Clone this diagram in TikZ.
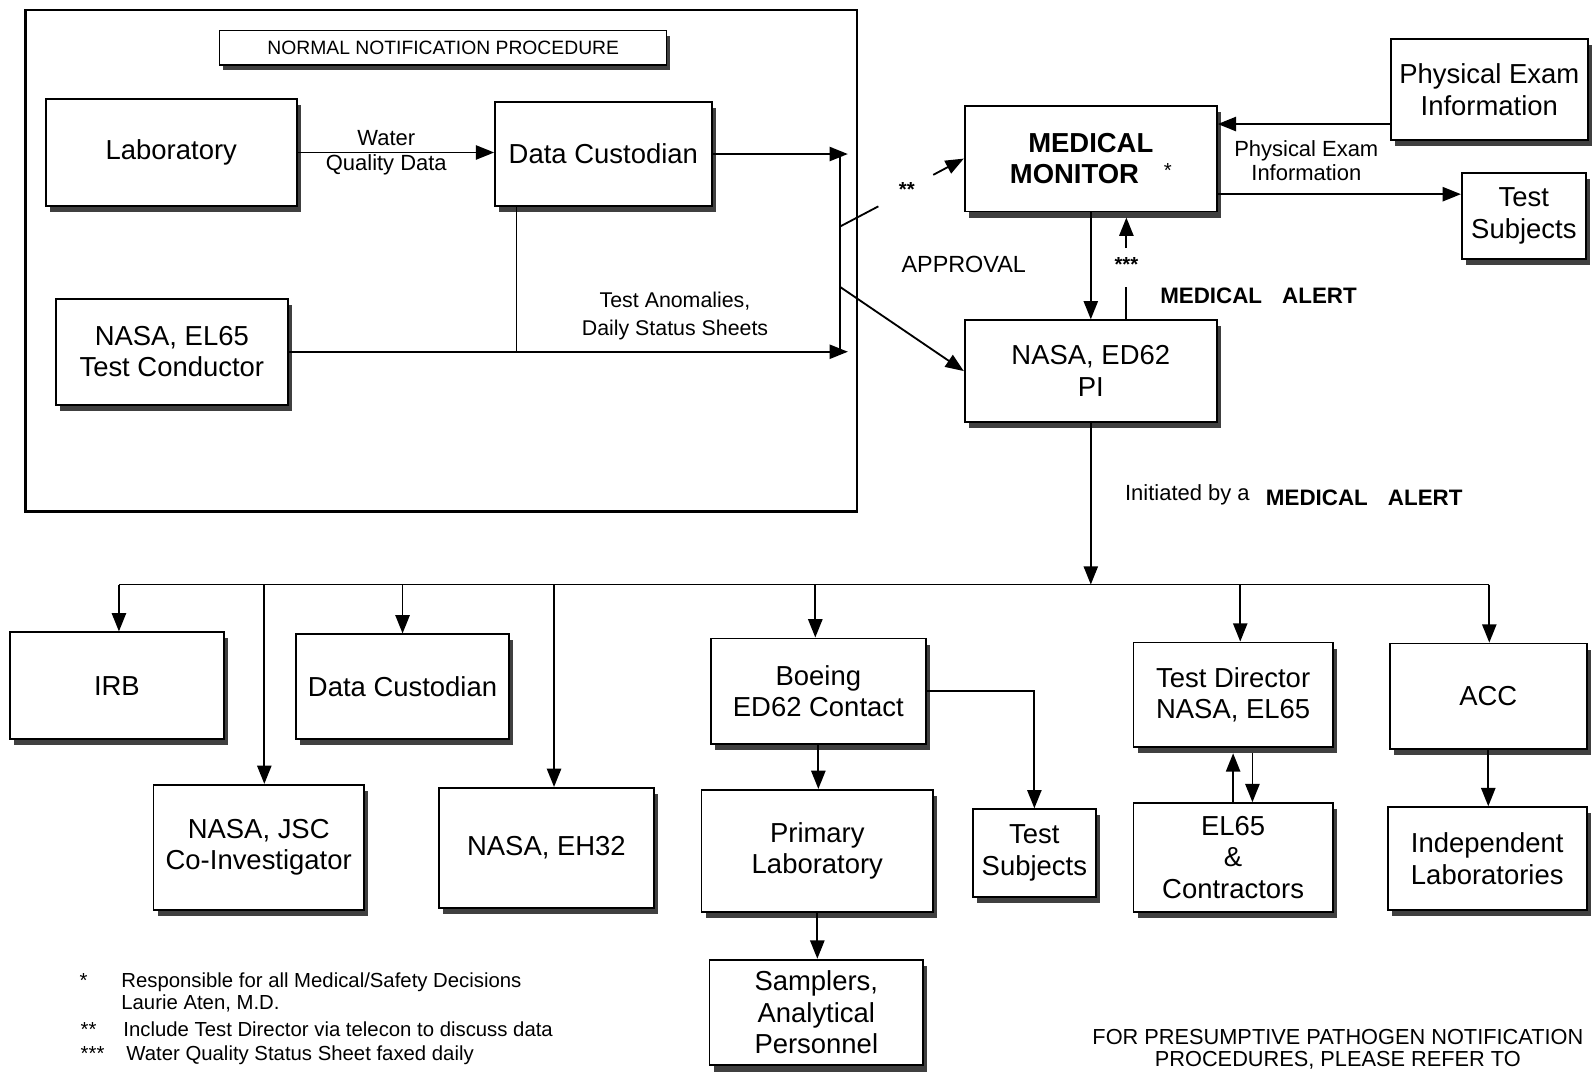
\documentclass[tikz,border=0pt]{standalone}
\usepackage{fontspec}
\setmainfont{Liberation Sans}
\usetikzlibrary{arrows.meta,shadows,calc}
\newcommand{\mybx}[6]{\node[box, minimum width={(#4-#2)*0.5pt}, minimum height={(#5-#3)*0.5pt}] (#1) at ({(#2+#4)/2},{(#3+#5)/2}) {#6};}
\begin{document}
\begin{tikzpicture}[x=0.5pt,y=-0.5pt,
 bx/.style={draw, line width=0.9pt, fill=white, align=center, inner sep=1pt},
 box/.style={bx, font=\fontsize{13.5}{15.5}\selectfont,
   drop shadow={shadow xshift=2pt, shadow yshift=-3pt, fill=black!75, opacity=1}},
 arr/.style={-{Triangle[length=9pt,width=7pt]}, line width=0.9pt},
 ln/.style={line width=0.9pt},
 lbl/.style={font=\fontsize{10.8}{12}\selectfont, align=center, inner sep=0pt},
 alert/.style={font=\bfseries\fontsize{11}{13}\selectfont, inner sep=0pt},
 note/.style={font=\fontsize{10}{12}\selectfont, anchor=base west, inner sep=0pt}]
\clip (0,0) rectangle (1568,1057);
\fill[white] (0,0) rectangle (1568,1057);

% frame of normal procedure
\draw[line width=1.2pt] (25,10) rectangle (843,503);
\node[bx, line width=0.6pt, font=\fontsize{9.5}{11}\selectfont, minimum width=220pt, minimum height=17pt,
  drop shadow={shadow xshift=1.5pt, shadow yshift=-2.5pt, fill=black!75, opacity=1}] (title) at (436,47) {NORMAL NOTIFICATION PROCEDURE};

% coordinates
\coordinate (bt) at (826,0);
\coordinate (tipx) at (834,0);
\coordinate (j) at (508,0);
\coordinate (b1) at (826,223);
\coordinate (b1e) at (864,203);
\coordinate (b1s) at (918,172);
\coordinate (b2) at (826,282);
\coordinate (sx) at (1108,0);
\coordinate (py) at (0,122);
\coordinate (ty) at (0,191);
\coordinate (bus) at (0,575);
\coordinate (d1) at (117,575);
\coordinate (d2) at (260,575);
\coordinate (d3) at (396,575);
\coordinate (d4) at (545,575);
\coordinate (d5) at (802,575);
\coordinate (d6) at (1220,575);
\coordinate (d7) at (1465,575);
\coordinate (ua) at (1213,741);
\coordinate (da) at (1232,741);

% boxes
\mybx{lab}{45}{97}{292}{203}{Laboratory}
\mybx{dc}{487}{100}{700}{203}{Data Custodian}
\mybx{tc}{55}{294}{283}{398}{NASA, EL65\\Test Conductor}
\mybx{mm}{949}{104}{1197}{208}{\bfseries MEDICAL\\\bfseries MONITOR\hspace{0.9em}\raisebox{3pt}{\normalfont\fontsize{10}{12}\selectfont *}}
\mybx{pe}{1368}{38}{1562}{138}{Physical Exam\\Information}
\mybx{ts1}{1438}{170}{1560}{255}{Test\\Subjects}
\mybx{pi}{949}{315}{1197}{415}{NASA, ED62\\PI}
\mybx{irb}{10}{622}{220}{727}{IRB}
\mybx{dctwo}{291}{624}{501}{727}{Data Custodian}
\mybx{jsc}{151}{772}{358}{895}{NASA, JSC\\Co-Investigator}
\mybx{eh}{432}{775}{643}{893}{NASA, EH32}
\mybx{boe}{699}{628}{911}{732}{Boeing\\ED62 Contact}
\mybx{plab}{690}{777}{918}{897}{Primary\\Laboratory}
\mybx{tstwo}{957}{796}{1078}{882}{Test\\Subjects}
\mybx{samp}{698}{944}{908}{1048}{Samplers,\\Analytical\\Personnel}
\mybx{td}{1115}{632}{1311}{735}{Test Director\\NASA, EL65}
\mybx{el}{1115}{790}{1311}{897}{EL65\\\&\\Contractors}
\mybx{acc}{1367}{633}{1561}{737}{ACC}
\mybx{indl}{1365}{794}{1561}{895}{Independent\\Laboratories}

% normal procedure connectors
\draw[arr] (lab.east) -- (lab.east -| dc.west);
\draw[arr] (dc.east) -- (dc.east -| tipx);
\draw[arr] (tc.east) -- (tc.east -| tipx);
\draw[ln] (dc.south -| j) -- (j |- tc.east);
\draw[ln] (dc.east -| bt) -- (tc.east -| bt);
\node[lbl] (wq1) at (380,136) {Water};
\node[lbl] (wq2) at (380,162) {Quality Data};
\node[lbl, font=\fontsize{10.5}{13.5}\selectfont] (ta) at (664,311) {Test Anomalies,\\Daily Status Sheets};

% to medical monitor and PI
\draw[ln] (b1) -- (b1e);
\node[font=\bfseries\fontsize{10}{12}\selectfont, inner sep=0pt] (s2) at (892,186) {**};
\draw[arr] (b1s) -- (mm.west);
\draw[arr] (b2) -- (pi.west);
\node[lbl, font=\fontsize{11.5}{13}\selectfont] (appr) at (948,260) {APPROVAL};
\draw[arr] (mm.south) -- (pi.north);
\draw[ln] (pi.north -| sx) -- (1108,282);
\node[font=\bfseries\fontsize{10}{12}\selectfont, inner sep=0pt] (s3) at (1108,260) {***};
\draw[arr] (1108,244) -- (1108,214);
\node[alert] (ma1) at (1238,291) {MEDICAL\hspace{0.9em}ALERT};

% physical exam
\draw[arr] (pe.west |- py) -- (mm.east |- py);
\draw[arr] (mm.east |- ty) -- (ts1.west |- ty);
\node[lbl] (pel) at (1285,158) {Physical Exam\\Information};

% medical alert distribution
\draw[arr] (pi.south) -- (pi.south |- bus);
\node[lbl] (init) at (1168,487) {Initiated by a};
\node[alert] (ma2) at (1342,490) {MEDICAL\hspace{0.9em}ALERT};
\draw[ln] (d1) -- (d7);
\draw[arr] (d1) -- (d1 |- irb.north);
\draw[arr] (d2) -- (d2 |- jsc.north);
\draw[arr] (d3) -- (d3 |- dctwo.north);
\draw[arr] (d4) -- (d4 |- eh.north);
\draw[arr] (d5) -- (d5 |- boe.north);
\draw[arr] (d6) -- (d6 |- td.north);
\draw[arr] (d7) -- (d7 |- acc.north);

\draw[arr] (boe.south) -- (boe.south |- plab.north);
\draw[arr] (boe.east) -| (tstwo.north);
\draw[arr] (plab.south) -- (plab.south |- samp.north);
\draw[arr] (ua |- el.north) -- (ua);
\draw[arr] (da) -- (da |- el.north);
\draw[arr] (acc.south) -- (acc.south |- indl.north);

% notes
\node[note] (st1) at (78,971) {*};
\node[note] (n1) at (119,971) {Responsible for all Medical/Safety Decisions};
\node[note] (n2) at (119,993) {Laurie Aten, M.D.};
\node[note] (st2) at (79,1020) {**};
\node[note] (n3) at (121,1020) {Include Test Director via telecon to discuss data};
\node[note] (st3) at (79,1043) {***};
\node[note] (n4) at (124,1043) {Water Quality Status Sheet faxed daily};

\node[font=\fontsize{10.7}{11}\selectfont, align=center, anchor=north, inner sep=0pt] (ref) at (1316,1012) {FOR PRESUMPTIVE PATHOGEN NOTIFICATION\\PROCEDURES, PLEASE REFER TO};
\end{tikzpicture}
\end{document}
